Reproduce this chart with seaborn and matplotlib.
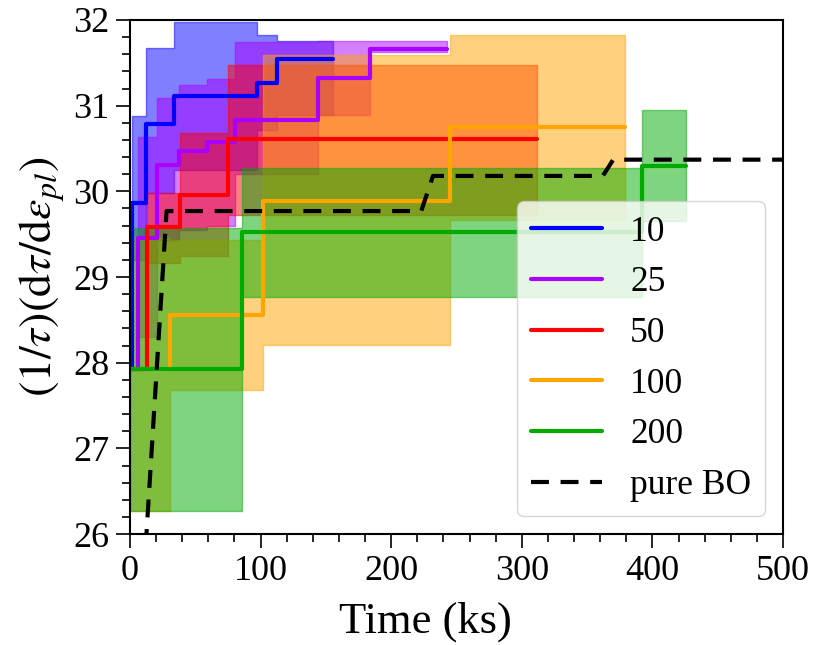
import numpy as np
import pandas as pd
import matplotlib
matplotlib.use("Agg")
import matplotlib.pyplot as plt
from matplotlib.ticker import MultipleLocator
import seaborn as sns

# ---- data: step curves (time in ks, value) and their uncertainty bands ----
labels = ["10", "25", "50", "100", "200"]
colors = ["#0000FF", "#AA00FF", "#FF0000", "#FFA500", "#00AA00"]

t_10 = [0.0, 1.3, 12.3, 33.7, 97.5, 112.8, 155.7]
v_10 = [27.93, 29.86, 30.79, 31.11, 31.27, 31.55, 31.55]
bt_10 = [1.3, 12.3, 33.7, 97.5, 112.8, 155.7]
lo_10 = [29.20, 29.98, 30.25, 30.72, 30.89, 30.89]
hi_10 = [30.88, 31.67, 31.98, 31.83, 31.755, 31.755]

t_25 = [0.0, 6.4, 20.4, 37.8, 58.7, 80.4, 143.7, 183.8, 242.5]
v_25 = [27.93, 29.46, 30.31, 30.47, 30.58, 30.83, 31.32, 31.66, 31.66]
bt_25 = [6.4, 20.4, 37.8, 58.7, 80.4, 143.7, 183.8, 242.5]
lo_25 = [28.30, 29.43, 29.55, 29.60, 30.20, 30.89, 31.63, 31.63]
hi_25 = [30.64, 31.09, 31.24, 31.31, 31.74, 31.75, 31.75, 31.75]

t_50 = [0.0, 12.8, 38.3, 75.3, 311.4]
v_50 = [27.93, 29.58, 29.96, 30.61, 30.61]
bt_50 = [12.8, 38.3, 75.3, 311.4]
lo_50 = [29.16, 29.24, 29.72, 29.72]
hi_50 = [29.98, 30.68, 31.47, 31.47]

t_100 = [0.0, 30.6, 102.0, 245.0, 379.0]
v_100 = [27.93, 28.56, 29.89, 30.75, 30.75]
bt_100 = [0.0, 30.6, 102.0, 245.0, 379.0]
lo_100 = [26.27, 27.68, 28.21, 29.67, 29.67]
hi_100 = [29.45, 29.43, 31.59, 31.82, 31.82]

t_200 = [0.0, 86.0, 391.8, 426.0]
v_200 = [27.93, 29.52, 30.30, 30.30]
bt_200 = [0.0, 86.0, 391.8, 426.0]
lo_200 = [26.27, 28.77, 29.65, 29.65]
hi_200 = [29.57, 30.27, 30.95, 30.95]

bo_t = [12.0, 28.0, 223.0, 232.0, 362.0, 370.0, 520.0]
bo_v = [25.85, 29.77, 29.77, 30.18, 30.18, 30.37, 30.37]

lines = [(t_10, v_10), (t_25, v_25), (t_50, v_50), (t_100, v_100), (t_200, v_200)]
bands = [(bt_10, lo_10, hi_10), (bt_25, lo_25, hi_25), (bt_50, lo_50, hi_50),
         (bt_100, lo_100, hi_100), (bt_200, lo_200, hi_200)]

# ---- style ----
sns.set_theme(style="ticks")
plt.rcParams["font.family"] = ["Liberation Serif", "DejaVu Serif"]
plt.rcParams["mathtext.fontset"] = "stix"
plt.rcParams["axes.linewidth"] = 1.5
for key in ["text.color", "axes.labelcolor", "xtick.color", "ytick.color",
            "axes.edgecolor"]:
    plt.rcParams[key] = "black"

fig, ax = plt.subplots(figsize=(8.16, 6.45), dpi=100)
fig.subplots_adjust(left=0.1593, right=0.9596, top=0.969, bottom=0.172)

# shaded bands first
for (bt, lo, hi), c in zip(bands, colors):
    ax.fill_between(bt, lo, hi, step="post", color=c, alpha=0.5, lw=1.0)

# step lines on top
for (t, v), c, lab in zip(lines, colors, labels):
    df = pd.DataFrame({"time": t, "value": v})
    sns.lineplot(data=df, x="time", y="value", color=c, label=lab,
                 drawstyle="steps-post", estimator=None, sort=False,
                 linewidth=3, ax=ax)

bo = pd.DataFrame({"time": bo_t, "value": bo_v})
sns.lineplot(data=bo, x="time", y="value", color="black", label="pure BO",
             estimator=None, sort=False, linewidth=3,
             linestyle=(0, (4.3, 2.8)), ax=ax)

ax.set_xlim(0, 500)
ax.set_ylim(26, 32)
ax.xaxis.set_major_locator(MultipleLocator(100))
ax.xaxis.set_minor_locator(MultipleLocator(20))
ax.yaxis.set_major_locator(MultipleLocator(1))
ax.yaxis.set_minor_locator(MultipleLocator(0.2))
ax.tick_params(which="major", direction="out", length=10, width=1.2,
               labelsize=26, pad=5, top=False, right=False)
ax.tick_params(which="minor", direction="out", length=6, width=1.2,
               top=False, right=False)
for s in ax.spines.values():
    s.set_visible(True)
    s.set_linewidth(1.5)
    s.set_color("black")

ax.set_xlabel("Time (ks)", fontsize=32, x=0.4525, labelpad=10)
ax.set_ylabel(r"$(1/\tau)(\mathrm{d}\tau/\mathrm{d}\varepsilon_{pl})$", fontsize=33)

leg = ax.legend(loc="lower right", fontsize=25.5, framealpha=0.8,
                edgecolor="0.8", handlelength=2.0)

fig.savefig("out.png", dpi=100)
